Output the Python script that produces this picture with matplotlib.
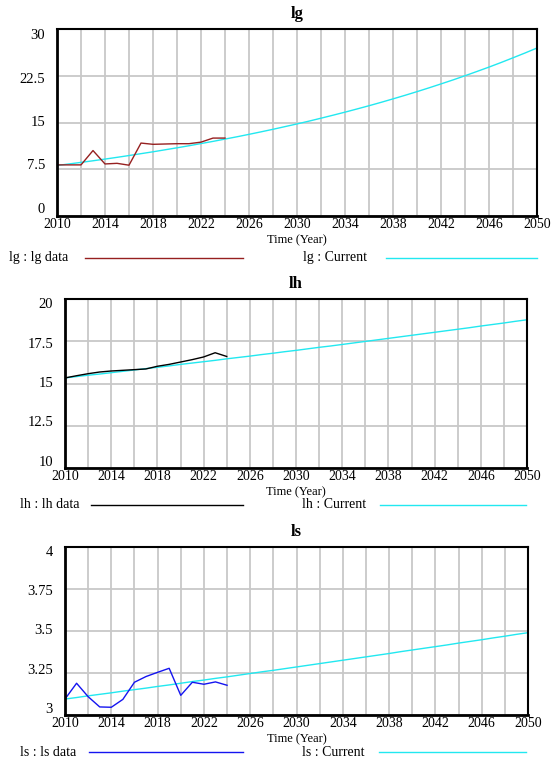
import numpy as np
import matplotlib
matplotlib.use("Agg")
import matplotlib.pyplot as plt
from matplotlib.lines import Line2D

plt.rcParams["font.family"] = ["Liberation Serif", "DejaVu Serif"]

# Time axis
years_data = list(range(2010, 2025))
years_sim = list(range(2010, 2051))

# lg panel
lg_data = [8.2, 8.2, 8.2, 10.5, 8.35, 8.45, 8.15, 11.7, 11.5, 11.55,
           11.6, 11.6, 11.85, 12.5, 12.5]
lg_current = [8.10, 8.35, 8.60, 8.86, 9.13, 9.41, 9.70, 10.00, 10.30, 10.62,
              10.94, 11.27, 11.62, 11.97, 12.34, 12.71, 13.10, 13.50, 13.91, 14.34,
              14.77, 15.22, 15.69, 16.17, 16.66, 17.17, 17.69, 18.23, 18.79, 19.36,
              19.95, 20.56, 21.19, 21.83, 22.50, 23.19, 23.89, 24.62, 25.38, 26.15,
              26.95]
lg_yticks = [0, 7.5, 15, 22.5, 30]
lg_ylabels = ["0", "7.5", "15", "22.5", "30"]

# lh panel
lh_data = [15.33, 15.46, 15.58, 15.68, 15.74, 15.78, 15.82, 15.86, 16.02, 16.13,
           16.27, 16.41, 16.57, 16.82, 16.6]
lh_current = [15.33, 15.41, 15.49, 15.56, 15.64, 15.72, 15.80, 15.88, 15.96, 16.04,
              16.13, 16.21, 16.29, 16.37, 16.46, 16.54, 16.62, 16.71, 16.79, 16.88,
              16.96, 17.05, 17.14, 17.22, 17.31, 17.40, 17.49, 17.58, 17.67, 17.76,
              17.85, 17.94, 18.03, 18.12, 18.21, 18.30, 18.40, 18.49, 18.58, 18.68,
              18.77]
lh_yticks = [10, 12.5, 15, 17.5, 20]
lh_ylabels = ["10", "12.5", "15", "17.5", "20"]

# ls panel
ls_data = [3.095, 3.189, 3.109, 3.048, 3.046, 3.093, 3.195, 3.229, 3.254, 3.278,
           3.117, 3.195, 3.183, 3.197, 3.177]
ls_current = [3.095, 3.104, 3.114, 3.123, 3.132, 3.142, 3.151, 3.160, 3.170, 3.179,
              3.189, 3.199, 3.208, 3.218, 3.227, 3.237, 3.247, 3.257, 3.266, 3.276,
              3.286, 3.296, 3.306, 3.316, 3.326, 3.336, 3.346, 3.356, 3.366, 3.377,
              3.387, 3.397, 3.407, 3.417, 3.428, 3.438, 3.448, 3.459, 3.469, 3.480,
              3.490]
ls_yticks = [3, 3.25, 3.5, 3.75, 4]
ls_ylabels = ["3", "3.25", "3.5", "3.75", "4"]

W, H = 553, 761
CYAN = "#22e8f0"
GRID = "#c8c8c8"


def px_to_fig(x, y):
    """Convert pixel coords (origin top-left) to figure fractions."""
    return x / W, 1 - y / H


def draw_panel(fig, box, title, name, data, current, data_color, yticks, ylabels, legend_px):
    """Draws one Vensim-style panel with its legend row underneath.

    Args:
        box: (left, top, right, bottom) of the axes in pixels.
        legend_px: y of legend row plus x positions for text/lines.
    """
    left, top, right, bottom = box
    ax = fig.add_axes([left / W, 1 - bottom / H, (right - left) / W, (bottom - top) / H])

    ax.plot(years_sim, current, color=CYAN, lw=1.0, zorder=3)
    ax.plot(years_data, data, color=data_color, lw=1.0, zorder=4)

    ax.set_xlim(2010, 2050)
    ax.set_ylim(yticks[0], yticks[-1])
    xt = list(range(2010, 2051, 2))
    ax.set_xticks(xt)
    ax.set_xticklabels([str(t) if (t - 2010) % 4 == 0 else "" for t in xt], fontsize=10)
    ax.set_yticks(yticks)
    ax.set_yticklabels([])
    ax.tick_params(length=0, pad=1.5)
    ax.grid(True, color=GRID, lw=1.3)
    ax.set_axisbelow(True)
    for side, sp in ax.spines.items():
        sp.set_linewidth(2.0 if side in ("left", "bottom") else 1.5)
        sp.set_zorder(5)

    # Vensim squeezes the value labels slightly inside the axis range
    for val, lab in zip(yticks, ylabels):
        frac = (val - yticks[0]) / (yticks[-1] - yticks[0])
        ax.text(-12 / (right - left), 0.035 + 0.93 * frac, lab, transform=ax.transAxes,
                ha="right", va="center", fontsize=10.5)

    cx = (left + right) / 2
    fx, fy = px_to_fig(cx, top - 15)
    fig.text(fx, fy, title, ha="center", va="center", fontsize=12, fontweight="bold")
    fx, fy = px_to_fig(cx, bottom + 24)
    fig.text(fx, fy, "Time (Year)", ha="center", va="center", fontsize=9)

    ly, tx1, l1a, l1b, tx2, l2a, l2b = legend_px
    fx, fy = px_to_fig(tx1, ly)
    fig.text(fx, fy, f"{name} : {name} data", ha="left", va="center", fontsize=10)
    fx, fy = px_to_fig(tx2, ly)
    fig.text(fx, fy, f"{name} : Current", ha="left", va="center", fontsize=10)
    for xa, xb, col in ((l1a, l1b, data_color), (l2a, l2b, CYAN)):
        xa_f, y_f = px_to_fig(xa, ly)
        xb_f, _ = px_to_fig(xb, ly)
        fig.add_artist(Line2D([xa_f, xb_f], [y_f, y_f], color=col, lw=1.0,
                              transform=fig.transFigure))
    return ax


def main():
    fig = plt.figure(figsize=(W / 100, H / 100), dpi=100)

    draw_panel(fig, (57, 29, 537, 216), "lg", "lg", lg_data, lg_current, "#962020",
               lg_yticks, lg_ylabels, (258, 9, 85, 243, 303, 386, 537))
    draw_panel(fig, (65, 299, 527, 468), "lh", "lh", lh_data, lh_current, "#000000",
               lh_yticks, lh_ylabels, (505, 20, 91, 243, 302, 380, 526))
    draw_panel(fig, (65, 547, 528, 715), "ls", "ls", ls_data, ls_current, "#1414f0",
               ls_yticks, ls_ylabels, (752, 20, 89, 243, 302, 379, 526))

    fig.savefig("out.png", dpi=100)
    plt.close(fig)


if __name__ == "__main__":
    main()
